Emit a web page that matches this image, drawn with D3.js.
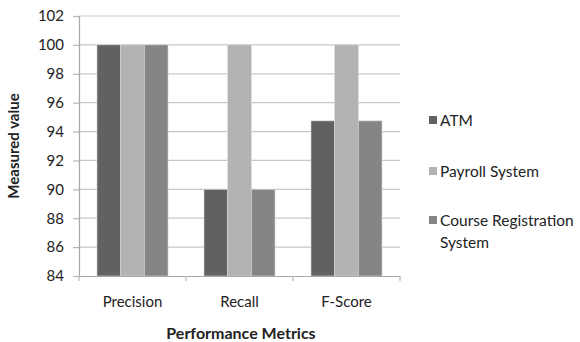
<!DOCTYPE html>
<html>
<head>
<meta charset="utf-8">
<script src="https://cdn.jsdelivr.net/npm/d3@7"></script>
<style>
  html, body { margin: 0; padding: 0; background: #fff; }
  svg { display: block; font-family: Lato, "Open Sans", sans-serif; }
</style>
</head>
<body>
<svg id="chart" width="580" height="342"></svg>
<script>
// Performance metrics of the three test systems
const categories = ["Precision", "Recall", "F-Score"];
const seriesNames = ["ATM", "Payroll System", "Course Registration System"];
const atm = [100, 90, 94.74];
const payroll = [100, 100, 100];
const courseRegistration = [100, 90, 94.74];
const yTicks = [84, 86, 88, 90, 92, 94, 96, 98, 100, 102];
const seriesColors = ["#616161", "#b3b3b3", "#858585"];

const seriesValues = [atm, payroll, courseRegistration];

const svg = d3.select("#chart");
const margin = { left: 79, right: 180, top: 16, bottom: 66 };
const width = 580 - margin.left - margin.right;
const height = 342 - margin.top - margin.bottom;

const g = svg.append("g").attr("transform", `translate(${margin.left},${margin.top})`);

const x0 = d3.scaleBand().domain(categories).range([0, width]).paddingInner(0).paddingOuter(0);
const x1 = d3.scaleBand().domain(seriesNames).range([0, x0.bandwidth()]).paddingInner(0).paddingOuter(0.76);
const y = d3.scaleLinear().domain([84, 102]).range([height, 0]);

// horizontal gridlines
g.append("g")
  .selectAll("line")
  .data(yTicks.filter(t => t > 84))
  .join("line")
  .attr("x1", 0).attr("x2", width)
  .attr("y1", d => y(d)).attr("y2", d => y(d))
  .attr("stroke", "#c8c8c8").attr("stroke-width", 1.2);

// y axis
const yAxis = g.append("g")
  .call(d3.axisLeft(y).tickValues(yTicks).tickSize(6).tickPadding(9).tickFormat(d3.format("d")));
yAxis.select(".domain").attr("stroke", "#a8a8a8").attr("stroke-width", 1.2);
yAxis.selectAll(".tick line").attr("stroke", "#b8b8b8").attr("stroke-width", 1.2);
yAxis.selectAll("text").attr("font-size", 15).attr("fill", "#222").attr("font-family", "Lato, sans-serif");

// bars
const groups = g.append("g")
  .selectAll("g")
  .data(categories.map((c, i) => ({ c, i })))
  .join("g")
  .attr("transform", d => `translate(${x0(d.c)},0)`);

groups.selectAll("rect")
  .data(d => seriesNames.map((s, k) => ({ s, k, v: seriesValues[k][d.i] })))
  .join("rect")
  .attr("x", d => x1(d.s))
  .attr("y", d => y(d.v))
  .attr("width", x1.bandwidth())
  .attr("height", d => y(84) - y(d.v))
  .attr("fill", d => seriesColors[d.k])
  .attr("stroke", "#d8d8d8")
  .attr("stroke-width", 0.6);

// x axis
const xAxis = g.append("g")
  .attr("transform", `translate(0,${height})`)
  .call(d3.axisBottom(x0).tickSize(0).tickPadding(20));
xAxis.select(".domain").attr("stroke", "#a8a8a8").attr("stroke-width", 1.2);
xAxis.selectAll("text").attr("font-size", 15).attr("fill", "#222").attr("font-family", "Lato, sans-serif");

// category boundary ticks
g.append("g")
  .selectAll("line")
  .data(d3.range(categories.length + 1))
  .join("line")
  .attr("x1", i => i * x0.step()).attr("x2", i => i * x0.step())
  .attr("y1", height).attr("y2", height + 5)
  .attr("stroke", "#b8b8b8").attr("stroke-width", 1.2);

// axis titles
svg.append("text")
  .attr("transform", `translate(19,${margin.top + height / 2}) rotate(-90)`)
  .attr("text-anchor", "middle")
  .attr("font-size", 15).attr("font-weight", "bold").attr("fill", "#222")
  .text("Measured value");

svg.append("text")
  .attr("x", 241).attr("y", 339)
  .attr("text-anchor", "middle")
  .attr("font-size", 16).attr("font-weight", "bold").attr("fill", "#222")
  .text("Performance Metrics");

// legend
const legendRows = [
  { lines: ["ATM"], y: 126 },
  { lines: ["Payroll System"], y: 177 },
  { lines: ["Course Registration", "System"], y: 226 }
];
const legend = svg.append("g");
legendRows.forEach((r, k) => {
  legend.append("rect")
    .attr("x", 429).attr("y", r.y - 10)
    .attr("width", 8).attr("height", 8)
    .attr("fill", seriesColors[k]);
  const t = legend.append("text")
    .attr("x", 440).attr("y", r.y)
    .attr("font-size", 15.5).attr("fill", "#222");
  r.lines.forEach((line, j) => {
    t.append("tspan").attr("x", 440).attr("dy", j === 0 ? 0 : 22).text(line);
  });
});
</script>
</body>
</html>
